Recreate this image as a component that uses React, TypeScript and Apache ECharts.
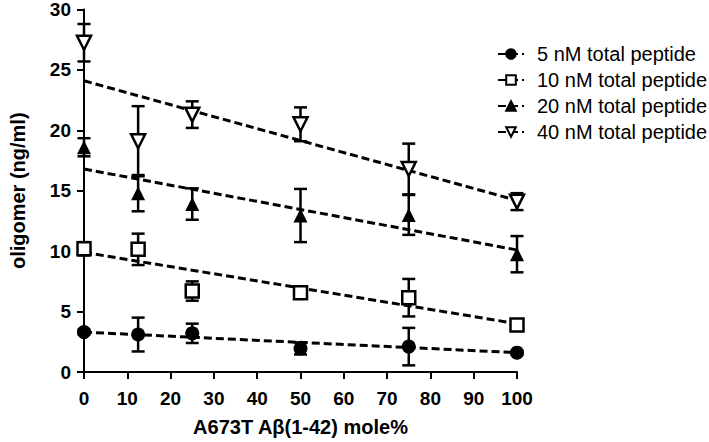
import React, { useEffect, useRef } from "react";
import * as echarts from "echarts";

const xValues = [0, 12.5, 25, 50, 75, 100];
const seriesNames = [
  "5 nM total peptide",
  "10 nM total peptide",
  "20 nM total peptide",
  "40 nM total peptide",
];
const mean5 = [3.3, 3.1, 3.2, 1.95, 2.1, 1.6];
const err5 = [0.2, 1.4, 0.8, 0.5, 1.55, 0.15];
const mean10 = [10.2, 10.15, 6.7, 6.55, 6.15, 3.9];
const err10 = [0.55, 1.3, 0.8, 0.3, 1.55, 0.2];
const mean20 = [18.6, 14.8, 13.9, 12.95, 13.0, 9.75];
const err20 = [0.75, 1.5, 1.3, 2.2, 1.65, 1.5];
const mean40 = [27.25, 19.1, 21.3, 20.5, 16.8, 14.1];
const err40 = [1.55, 2.9, 1.1, 1.4, 2.1, 0.7];
const trendStart = [3.3, 9.9, 16.8, 24.1];
const trendEnd = [1.6, 4.0, 10.1, 14.2];
const xTitle = "A673T Aβ(1-42) mole%";
const yTitle = "oligomer (ng/ml)";

const means = [mean5, mean10, mean20, mean40];
const errs = [err5, err10, err20, err40];
const symbols = ["circle", "rect", "triangle", "triangle"];
const rotates = [0, 0, 0, 180];
const fills = ["#000", "#fff", "#000", "#fff"];

const FONT = "Liberation Sans, Arial, Helvetica, sans-serif";

export default function App() {
  const ref = useRef<HTMLDivElement>(null);
  useEffect(() => {
    if (!ref.current) return;
    const chart = echarts.init(ref.current, undefined, { renderer: "svg" });

    const renderErr = (_params: any, api: any) => {
      const x = api.value(0);
      const lo = api.coord([x, api.value(1)]);
      const hi = api.coord([x, api.value(2)]);
      const half = 6.5;
      const st = { stroke: "#000", lineWidth: 2.5 };
      return {
        type: "group",
        children: [
          { type: "line", shape: { x1: lo[0], y1: lo[1], x2: hi[0], y2: hi[1] }, style: st },
          { type: "line", shape: { x1: lo[0] - half, y1: lo[1], x2: lo[0] + half, y2: lo[1] }, style: st },
          { type: "line", shape: { x1: hi[0] - half, y1: hi[1], x2: hi[0] + half, y2: hi[1] }, style: st },
        ],
      };
    };

    const series: any[] = [];
    means.forEach((m, i) => {
      series.push({
        type: "custom",
        name: "err" + i,
        renderItem: renderErr,
        clip: false,
        z: 3,
        data: xValues.map((x, j) => [x, m[j] - errs[i][j], m[j] + errs[i][j]]),
      });
    });
    means.forEach((m, i) => {
      series.push({
        type: "line",
        name: seriesNames[i],
        data: [
          [0, trendStart[i]],
          [100, trendEnd[i]],
        ],
        showSymbol: false,
        symbol: symbols[i],
        symbolRotate: rotates[i],
        lineStyle: { color: "#000", width: 3, type: [8, 4] },
        itemStyle: { color: fills[i], borderColor: "#000", borderWidth: 2 },
        z: 4,
        silent: true,
      });
    });
    means.forEach((m, i) => {
      series.push({
        type: "scatter",
        name: "pts" + i,
        data: xValues.map((x, j) => [x, m[j]]),
        symbol: symbols[i],
        symbolRotate: rotates[i],
        symbolSize: symbols[i] === "rect" ? 13 : 14,
        itemStyle: {
          color: fills[i],
          borderColor: "#000",
          borderWidth: fills[i] === "#fff" ? 2.5 : 0,
          opacity: 1,
        },
        z: 5,
      });
    });

    chart.setOption({
      animation: false,
      grid: { left: 68, right: 192, top: 9, bottom: 67, containLabel: false },
      legend: {
        data: seriesNames,
        orient: "vertical",
        left: 492,
        top: 39,
        itemWidth: 26,
        itemHeight: 12,
        itemGap: 6,
        textStyle: { fontSize: 20, fontFamily: FONT, color: "#000", padding: [0, 0, 0, 8] },
      },
      xAxis: {
        type: "value",
        min: 0,
        max: 100,
        interval: 10,
        name: xTitle,
        nameLocation: "middle",
        nameGap: 45,
        nameTextStyle: { fontSize: 20, fontWeight: "bold", fontFamily: FONT, color: "#000" },
        splitLine: { show: false },
        axisLine: { onZero: false, lineStyle: { color: "#000", width: 2 } },
        axisTick: { show: true, length: 7, lineStyle: { color: "#000", width: 2 } },
        axisLabel: { margin: 17, fontSize: 19, fontWeight: "bold", fontFamily: FONT, color: "#000" },
      },
      yAxis: {
        type: "value",
        min: 0,
        max: 30,
        interval: 5,
        name: yTitle,
        nameLocation: "middle",
        nameGap: 56,
        nameTextStyle: { fontSize: 20, fontWeight: "bold", fontFamily: FONT, color: "#000" },
        splitLine: { show: false },
        axisLine: { show: true, onZero: false, lineStyle: { color: "#000", width: 2 } },
        axisTick: { show: true, length: 7, lineStyle: { color: "#000", width: 2 } },
        axisLabel: { margin: 13, fontSize: 19, fontWeight: "bold", fontFamily: FONT, color: "#000" },
      },
      series,
    });
    return () => chart.dispose();
  }, []);
  return <div ref={ref} style={{ width: 709, height: 442, position: "absolute", left: 0, top: 0 }} />;
}
